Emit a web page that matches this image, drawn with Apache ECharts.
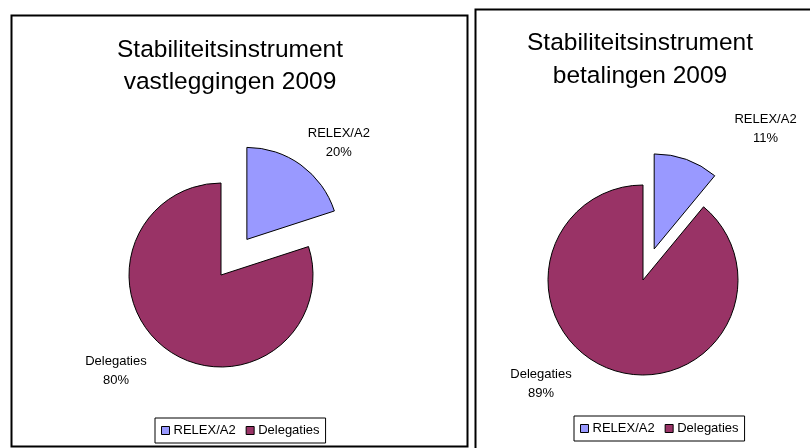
<!DOCTYPE html>
<html>
<head>
<meta charset="utf-8">
<script src="https://cdn.jsdelivr.net/npm/echarts@6/dist/echarts.min.js"></script>
<style>
  html, body { margin: 0; padding: 0; background: #fff; }
  #main { width: 810px; height: 448px; }
</style>
</head>
<body>
<div id="main"></div>
<script>
// categories and shares (percent)
var categories = ['RELEX/A2', 'Delegaties'];
var vastleggingen = [20, 80];
var betalingen = [11, 89];
var titles = ['Stabiliteitsinstrument\nvastleggingen 2009', 'Stabiliteitsinstrument\nbetalingen 2009'];
var colors = ['#9999FF', '#993366'];

var FONT = "'Liberation Sans', Arial, sans-serif";

// label line lengths per slice (only used to place the label, line hidden)
function makeData(values, lines) {
	var data = [];
	for (var i = 0; i < categories.length; i++) {
		data.push({
			name: categories[i],
			value: values[i],
			selected: i == 0,
			labelLine: { show: false, length: lines[i][0], length2: lines[i][1] }
		});
	}
	return data;
}

// center the two label lines on each other, like excel does
function centerLabel(p) {
	return { x: p.labelRect.x + p.labelRect.width / 2, align: 'center' };
}

function pieSeries(center, radius, offset, data) {
	return {
		type: 'pie',
		center: center,
		radius: radius,
		startAngle: 90,
		clockwise: true,
		selectedMode: true,
		selectedOffset: offset,
		avoidLabelOverlap: false,
		percentPrecision: 0,
		label: {
			show: true,
			position: 'outside',
			formatter: '{b}\n{d}%',
			fontFamily: FONT,
			fontSize: 13,
			lineHeight: 19,
			color: '#000'
		},
		labelLayout: centerLabel,
		itemStyle: { borderColor: '#000', borderWidth: 1 },
		emphasis: { disabled: true },
		data: data
	};
}

function legendAt(left, top) {
	return {
		left: left,
		top: top,
		orient: 'horizontal',
		data: categories,
		icon: 'rect',
		itemWidth: 8,
		itemHeight: 8,
		itemGap: 10,
		padding: [6, 6],
		borderColor: '#000',
		borderWidth: 1,
		selectedMode: false,
		itemStyle: { borderColor: '#000', borderWidth: 1 },
		textStyle: { fontFamily: FONT, fontSize: 13, color: '#000', padding: [0, 0, 0, -1] }
	};
}

var chart = echarts.init(document.getElementById('main'), null, { renderer: 'canvas' });

chart.setOption({
	animation: false,
	backgroundColor: '#ffffff',
	color: colors,
	graphic: [
		{ type: 'rect', shape: { x: 11.5, y: 15.5, width: 456, height: 431 }, style: { fill: 'none', stroke: '#000', lineWidth: 2 } },
		{ type: 'rect', shape: { x: 475.5, y: 9.5, width: 400, height: 500 }, style: { fill: 'none', stroke: '#000', lineWidth: 2 } }
	],
	title: [
		{
			text: titles[0], left: 230, top: 34, textAlign: 'center', padding: 0,
			textStyle: { fontFamily: FONT, fontSize: 24.5, fontWeight: 'normal', lineHeight: 32, color: '#000' }
		},
		{
			text: titles[1], left: 640, top: 27, textAlign: 'center', padding: 0,
			textStyle: { fontFamily: FONT, fontSize: 24.5, fontWeight: 'normal', lineHeight: 33, color: '#000' }
		}
	],
	legend: [legendAt(155, 418), legendAt(574, 416)],
	series: [
		pieSeries([221, 275], 92, 44, makeData(vastleggingen, [[27, 17], [26, 0]])),
		pieSeries([643, 280], 95, 33, makeData(betalingen, [[33, 63], [15, 29]]))
	]
});
</script>
</body>
</html>
